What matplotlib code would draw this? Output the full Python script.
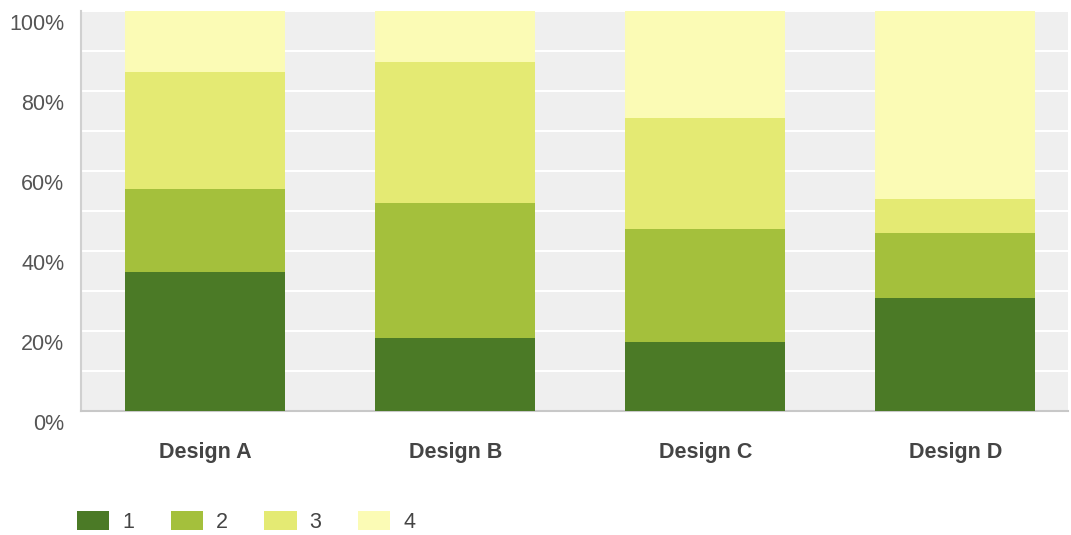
import matplotlib
matplotlib.use('Agg')
import matplotlib.pyplot as plt
import matplotlib.transforms as mtransforms
import numpy as np

plt.rcParams['font.family'] = ['Liberation Sans', 'DejaVu Sans']

designs = ['Design A', 'Design B', 'Design C', 'Design D']
series_names = ['1', '2', '3', '4']
# percent share of each answer per design
s1 = [34.8, 18.3, 17.3, 28.3]
s2 = [20.8, 33.8, 28.3, 16.3]
s3 = [29.1, 35.1, 27.6, 8.5]
s4 = [15.3, 12.8, 26.8, 46.9]
colors = ['#4b7a26', '#a4c03c', '#e4ea73', '#fbfbb5']

fig = plt.figure(figsize=(10.71, 5.35), dpi=100)
ax = fig.add_axes([81/1071, 1-411/535, (1068-81)/1071, 400/535])
ax.set_facecolor('#efefef')

x = np.arange(len(designs))
bottom = np.zeros(len(designs))
bars = []
for vals, name, c in zip([s1, s2, s3, s4], series_names, colors):
    b = ax.bar(x, vals, width=0.64, bottom=bottom, color=c, label=name, zorder=3)
    bars.append(b)
    bottom += np.array(vals)

ax.set_ylim(0, 100)
ax.set_xlim(-0.496, 3.45)
ax.set_yticks(np.arange(0, 101, 20))
ax.set_yticklabels([f'{v}%' for v in range(0, 101, 20)])
ax.set_yticks(np.arange(0, 101, 10), minor=True)
ax.grid(axis='y', which='both', color='white', linewidth=1.5, zorder=1)
ax.set_axisbelow(True)

ax.set_xticks(x)
ax.set_xticklabels(designs, fontweight='bold', fontsize=15.5, color='#444444')
ax.tick_params(axis='x', length=0, pad=22)
ax.tick_params(axis='y', which='both', length=0, pad=12, labelsize=15.5, labelcolor='#555555')

off = mtransforms.ScaledTranslation(0, -11/100, fig.dpi_scale_trans)
for lbl in ax.get_yticklabels():
    lbl.set_transform(lbl.get_transform() + off)

for side in ['top', 'right']:
    ax.spines[side].set_visible(False)
ax.spines['left'].set_color('#d0d0d0')
ax.spines['bottom'].set_color('#c8c8c8')
ax.spines['left'].set_linewidth(1.5)
ax.spines['bottom'].set_linewidth(1.5)

leg = fig.legend(handles=bars, labels=series_names, loc='center left',
                 bbox_to_anchor=(77/1071, 1-522/535), ncol=4, frameon=False,
                 fontsize=15.5, handlelength=1.5, handleheight=1.0,
                 handletextpad=0.6, columnspacing=1.7, labelcolor='#444444',
                 borderpad=0, borderaxespad=0)

fig.savefig('out.png', dpi=100)
